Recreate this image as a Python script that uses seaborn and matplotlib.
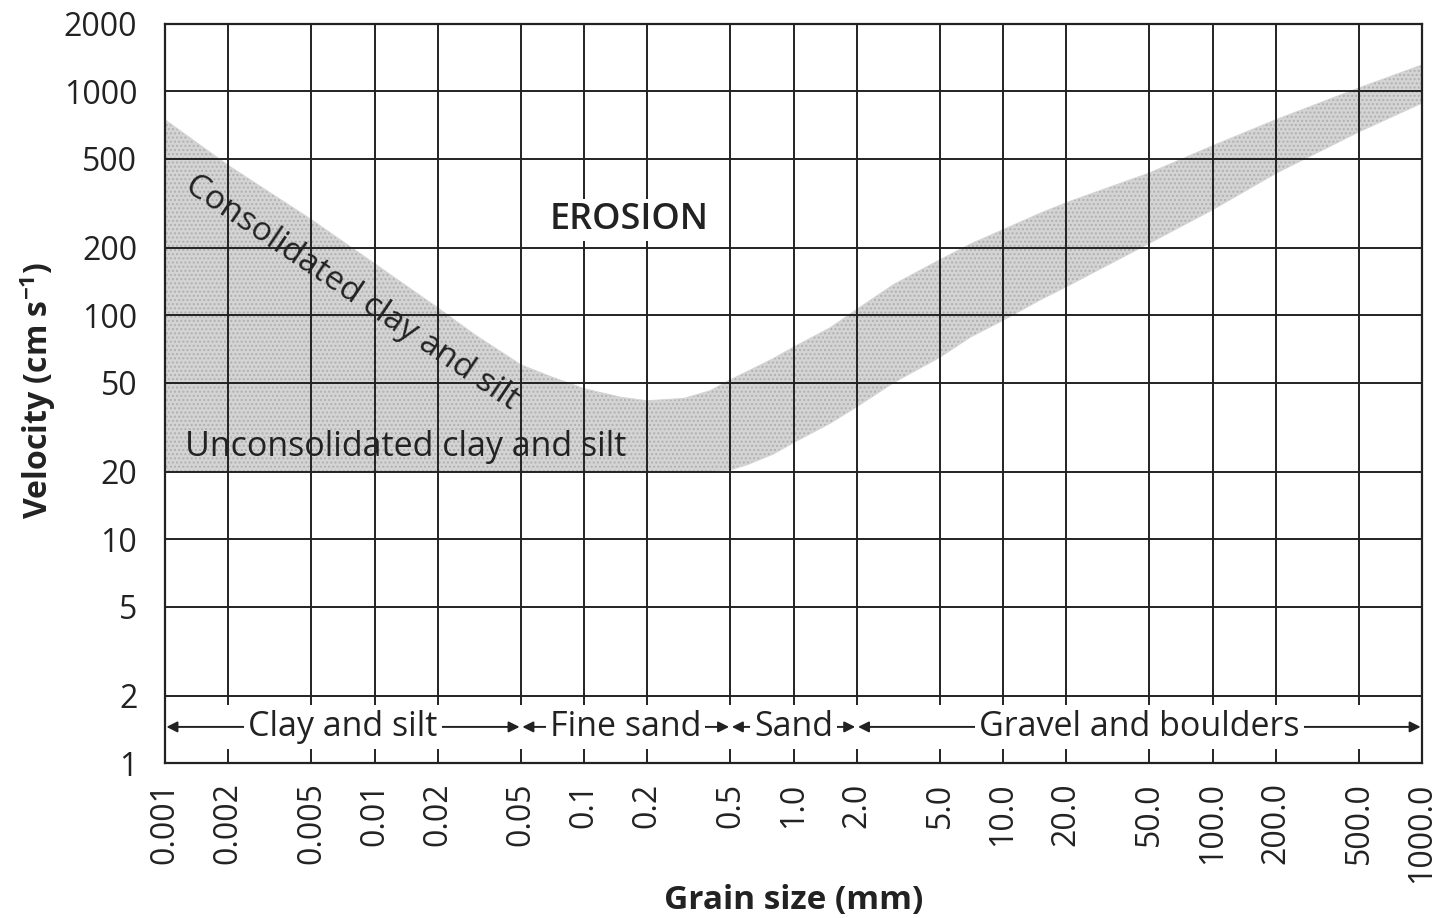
import numpy as np
import pandas as pd
import seaborn as sns
import matplotlib.pyplot as plt

# grain size (mm) and erosion band edges (cm/s)
grain_mm = [0.001, 0.002, 0.005, 0.01, 0.02, 0.03, 0.05, 0.07, 0.1, 0.15, 0.2,
            0.3, 0.4, 0.5, 0.6, 0.8, 1.0, 1.5, 2.0, 3.0, 5.0, 7.0, 10.0, 15.0,
            20.0, 50.0, 100.0, 200.0, 500.0, 1000.0]
upper_vel = [746, 467, 267, 170, 108, 82, 60, 53, 47, 43, 41.5,
             42.5, 46, 51.5, 56, 64, 72, 88, 106, 137, 177, 208, 241, 285,
             318, 432, 571, 746, 1036, 1312]
lower_vel = [20, 20, 20, 20, 20, 20, 20, 20, 20, 20, 20,
             20, 20, 20.4, 21.5, 24, 27, 33, 39, 50, 65, 80, 95, 117,
             134, 210, 296, 430, 660, 887]

x_ticks = [0.001, 0.002, 0.005, 0.01, 0.02, 0.05, 0.1, 0.2, 0.5, 1.0,
           2.0, 5.0, 10.0, 20.0, 50.0, 100.0, 200.0, 500.0, 1000.0]
x_tick_labels = ["0.001", "0.002", "0.005", "0.01", "0.02", "0.05", "0.1", "0.2",
                 "0.5", "1.0", "2.0", "5.0", "10.0", "20.0", "50.0", "100.0",
                 "200.0", "500.0", "1000.0"]
y_ticks = [1, 2, 5, 10, 20, 50, 100, 200, 500, 1000, 2000]

# size classes shown as arrows along the bottom strip
class_names = ["Clay and silt", "Fine sand", "Sand", "Gravel and boulders"]
class_edges = [0.001, 0.05, 0.5, 2.0, 1000.0]

df = pd.DataFrame({"grain": grain_mm, "upper": upper_vel, "lower": lower_vel})

sns.set_theme(style="white")
plt.rcParams["font.family"] = ["Open Sans", "DejaVu Sans"]
plt.rcParams["mathtext.default"] = "regular"

fig = plt.figure(figsize=(14.49, 9.18), dpi=100)
ax = fig.add_axes([0.1139, 0.1688, 0.8675, 0.8051])
ax.set_xscale("log")
ax.set_yscale("log")
ax.set_xlim(0.001, 1000)
ax.set_ylim(1, 2000)

# band
band_col = "#d4d4d4"
ax.fill_between(df["grain"], df["lower"], df["upper"], facecolor=band_col,
                edgecolor="#b0b0b0", hatch="....", linewidth=0, zorder=1)
sns.lineplot(data=df, x="grain", y="upper", color=band_col, linewidth=0.8, ax=ax, zorder=1)
sns.lineplot(data=df, x="grain", y="lower", color=band_col, linewidth=0.8, ax=ax, zorder=1)

# grid
grid_kw = dict(color="#222222", linewidth=1.4, zorder=2)
for yv in y_ticks[1:-1]:
    ax.axhline(yv, **grid_kw)
ax.vlines(x_ticks[1:-1], 2, 2000, **grid_kw)
ax.vlines(x_ticks[1:-1], 1.82, 2, **grid_kw)

for sp in ax.spines.values():
    sp.set_color("#222222")
    sp.set_linewidth(1.6)
    sp.set_zorder(3)

ax.set_xticks(x_ticks)
ax.set_xticklabels(x_tick_labels, rotation=90)
ax.set_yticks(y_ticks)
ax.set_yticklabels([str(v) for v in y_ticks])
ax.minorticks_off()
ax.tick_params(axis="x", direction="in", length=10, width=1.4, color="#222222",
               bottom=True, pad=14, labelsize=23, labelcolor="#222222")
ax.tick_params(axis="y", left=False, pad=14, labelsize=23, labelcolor="#222222")
ax.set_xlabel("")
ax.set_ylabel("")

fig.text(0.5475, 0.019, "Grain size (mm)", ha="center", va="center",
         fontsize=24, fontweight="bold", color="#222222")
fig.text(0.026, 0.575, r"Velocity (cm s$^{-1}$)", ha="center", va="center",
         rotation=90, fontsize=23, fontweight="bold", color="#222222")

# labels inside plot
ax.text(0.165, 267, "EROSION", ha="center", va="center", fontsize=26,
        fontweight="semibold", color="#222222", zorder=4,
        bbox=dict(facecolor="white", edgecolor="none", pad=2))
ax.text(0.0078, 126, "Consolidated clay and silt", ha="center", va="center",
        rotation=-34, rotation_mode="anchor", fontsize=24, color="#222222", zorder=4)
ax.text(0.0141, 25.9, "Unconsolidated clay and silt", ha="center", va="center",
        fontsize=24.5, color="#222222", zorder=4)

# class arrows
arrow_y = 1.45
for name, lo, hi in zip(class_names, class_edges[:-1], class_edges[1:]):
    ax.annotate("", xy=(hi, arrow_y), xytext=(lo, arrow_y),
                arrowprops=dict(arrowstyle="<|-|>", color="#222222", lw=1.4,
                                mutation_scale=16, shrinkA=1, shrinkB=1), zorder=3)
    ax.text(np.sqrt(lo * hi), arrow_y, name, ha="center", va="center",
            fontsize=24.5, color="#222222", zorder=4,
            bbox=dict(facecolor="white", edgecolor="none", pad=3))

fig.savefig("out.png", dpi=100)
